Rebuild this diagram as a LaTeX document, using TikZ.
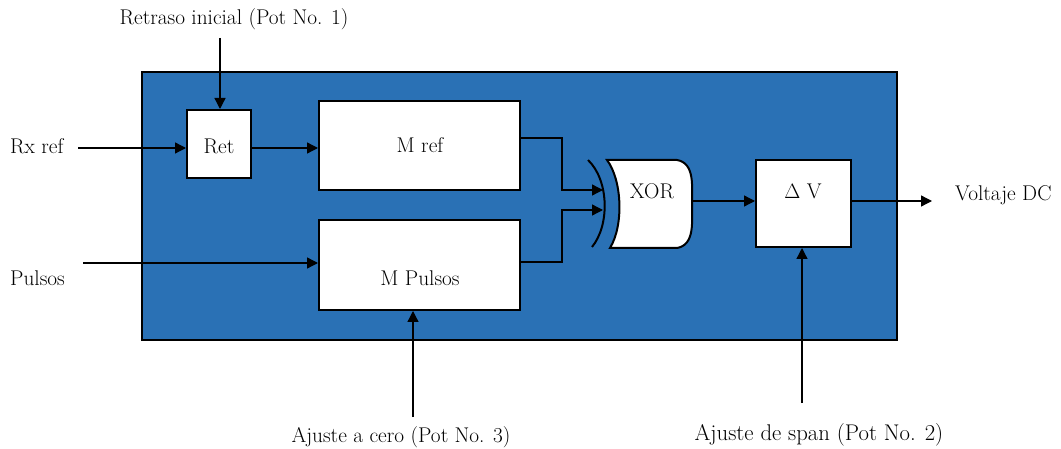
\documentclass[tikz,border=0pt]{standalone}
\usetikzlibrary{arrows.meta,calc}
\definecolor{panelblue}{RGB}{42,113,181}
\begin{document}
\begin{tikzpicture}[x=1pt,y=-1pt,
  txt/.style={font=\fontsize{21.3}{25}\selectfont, inner sep=0pt},
  bigtxt/.style={font=\fontsize{22.7}{27}\selectfont, inner sep=0pt},
  box/.style={draw=black, fill=white, line width=2pt, inner sep=0pt},
  wire/.style={line width=1.3pt},
  arr/.style={wire,-{Triangle[length=11pt,width=11pt]}}]
\useasboundingbox (0,0) rectangle (1061,449);
% panel
\node[draw=black, line width=2pt, fill=panelblue, minimum width=755, minimum height=268, inner sep=0pt] (panel) at (519.5,206) {};
% boxes
\node[box, minimum width=64, minimum height=68] (ret) at (219,144) {};
\node[box, minimum width=201, minimum height=89] (mref) at (419.5,145.5) {};
\node[box, minimum width=201, minimum height=90] (mpul) at (419.5,265) {};
\node[box, minimum width=95, minimum height=87] (dv) at (803.5,203.5) {};
% XOR gate
\draw[line width=2pt, fill=white] (607,160) -- (677,160) to[out=-10,in=90] (692,204) to[out=-90,in=10] (677,248) -- (610,248) .. controls (624,225) and (622,180) .. (607,160) -- cycle;
\draw[line width=2pt] (588,160) .. controls (609,180) and (610,225) .. (592,247);
% box labels
\node[txt, anchor=base] (retl) at (219,154) {Ret};
\node[txt, anchor=base] (mrefl) at (420,153) {M ref};
\node[txt, anchor=base] (mpull) at (420,286) {M Pulsos};
\node[txt, anchor=base] (xorl) at (652,199) {XOR};
\node[txt, anchor=base] (dvl) at (803,199) {$\Delta$ V};
% outer labels
\node[txt, anchor=base west] (rx) at (10,154) {Rx ref};
\node[txt, anchor=base west] (pul) at (10,286) {Pulsos};
\node[txt, anchor=base] (retr) at (234,25) {Retraso inicial (Pot No. 1)};
\node[txt, anchor=base] (cero) at (401,442) {Ajuste a cero (Pot No. 3)};
\node[bigtxt, anchor=base] (span) at (819,440) {Ajuste de span (Pot No. 2)};
\node[txt, anchor=base west] (vdc) at (955,201) {Voltaje DC};
% coordinates
\coordinate (rxs) at (78,148);
\coordinate (rets) at (220,38);
\coordinate (puls) at (83,263);
\coordinate (mrefo) at (520,138);
\coordinate (mpulo) at (520,262);
\coordinate (xin1) at (603,190);
\coordinate (xin2) at (603,210);
\coordinate (xout) at (692,201);
\coordinate (vout) at (932,201);
\coordinate (spn) at (802,403);
\coordinate (cer) at (413,417);
% connectors
\draw[arr] (rxs) -- (rxs -| ret.west);
\draw[arr] (ret.east |- rxs) -- (rxs -| mref.west);
\draw[arr] (rets) -- (rets |- ret.north);
\draw[arr] (puls) -- (puls -| mpul.west);
\draw[arr] (mrefo) -- (562,138) -- (562,190) -- (xin1);
\draw[arr] (mpulo) -- (562,262) -- (562,210) -- (xin2);
\draw[arr] (xout) -- (xout -| dv.west);
\draw[arr] (dv.east |- vout) -- (vout);
\draw[arr] (spn) -- (spn |- dv.south);
\draw[arr] (cer) -- (cer |- mpul.south);
\end{tikzpicture}
\end{document}
